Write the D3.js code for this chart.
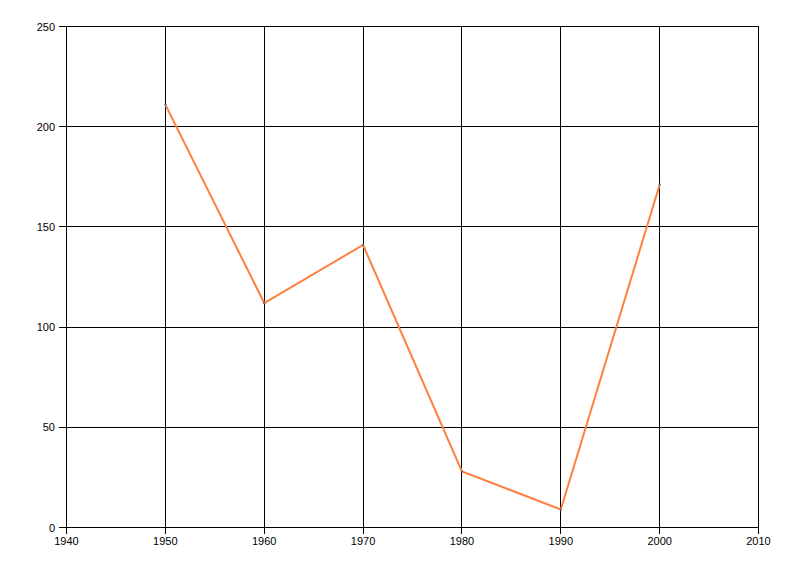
<!DOCTYPE html>
<html><head><meta charset="utf-8">
<script src="https://cdn.jsdelivr.net/npm/d3@7"></script>
<style>body{margin:0;background:#fff}svg{display:block}</style>
</head><body>
<script>
const years = [1950, 1960, 1970, 1980, 1990, 2000];
const values = [211, 112, 141, 28, 9, 171];
const xTicks = [1940, 1950, 1960, 1970, 1980, 1990, 2000, 2010];
const yTicks = [0, 50, 100, 150, 200, 250];

const W = 800, H = 576;
const svg = d3.select("body").append("svg").attr("width", W).attr("height", H);
const x = d3.scaleLinear().domain([1940, 2010]).range([66, 758]);
const y = d3.scaleLinear().domain([0, 250]).range([527, 26]);
const px = v => Math.round(v) + 0.5;

const font = "'Liberation Sans', Arial, sans-serif";

// grid
svg.append("g").attr("shape-rendering", "crispEdges").selectAll("line").data(xTicks).join("line")
  .attr("x1", d => px(x(d))).attr("x2", d => px(x(d))).attr("y1", px(y(250))).attr("y2", px(y(0)) + 6)
  .attr("stroke", "#000").attr("stroke-width", 1);
svg.append("g").attr("shape-rendering", "crispEdges").selectAll("line").data(yTicks).join("line")
  .attr("x1", px(x(1940)) - 8).attr("x2", px(x(2010))).attr("y1", d => px(y(d))).attr("y2", d => px(y(d)))
  .attr("stroke", "#000").attr("stroke-width", 1);

// labels
svg.append("g").selectAll("text").data(yTicks).join("text")
  .attr("x", 55).attr("y", d => y(d) + 4.5)
  .attr("text-anchor", "end").attr("font-family", font).attr("font-size", 11)
  .attr("fill", "#000").text(d => d);
svg.append("g").selectAll("text").data(xTicks).join("text")
  .attr("x", d => x(d) + 0.5).attr("y", 545)
  .attr("text-anchor", "middle").attr("font-family", font).attr("font-size", 11)
  .attr("fill", "#000").text(d => d);

// line
const pts = years.map((d, i) => [d, values[i]]);
svg.append("path").datum(pts)
  .attr("d", d3.line().x(d => x(d[0]) + 0.5).y(d => y(d[1]) + 0.5))
  .attr("fill", "none").attr("stroke", "#FF7F3F").attr("stroke-width", 2)
  .attr("stroke-linejoin", "miter");
svg.append("g").selectAll("rect").data(pts).join("rect")
  .attr("x", d => x(d[0]) - 0.5).attr("y", d => y(d[1]) - 0.5)
  .attr("width", 2).attr("height", 2).attr("fill", "#666");
</script>
</body></html>
